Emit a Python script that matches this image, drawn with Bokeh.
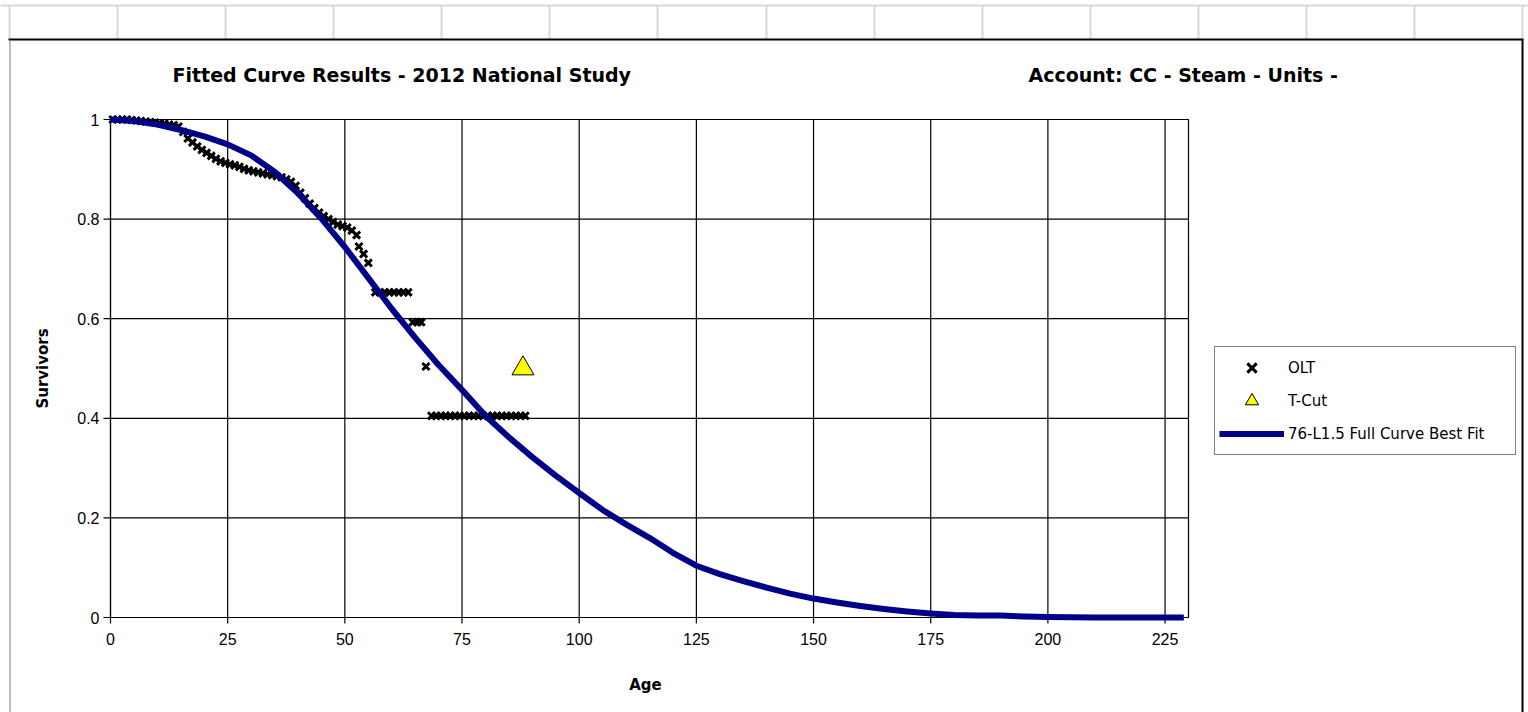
import math

from bokeh.plotting import figure
from bokeh.models import Range1d, Legend, LegendItem
from bokeh.core.properties import value
from bokeh.embed import file_html
from bokeh.resources import INLINE

# ---- data -------------------------------------------------------------
# fitted Iowa curve 76-L1.5 (age in years, fraction surviving)
fit_age = [0, 5, 10, 15, 20, 25, 30, 35, 40, 45, 50, 55, 60, 65, 70, 75, 80,
           85, 90, 95, 100, 105, 110, 115, 120, 125, 130, 135, 140, 145, 150,
           155, 160, 165, 170, 175, 180, 185, 190, 195, 200, 210, 220, 229]
fit_surv = [1.000, 0.997, 0.990, 0.979, 0.966, 0.950, 0.928, 0.895, 0.852,
            0.801, 0.744, 0.682, 0.620, 0.562, 0.507, 0.457, 0.405, 0.362,
            0.322, 0.285, 0.250, 0.216, 0.187, 0.160, 0.130, 0.104, 0.087,
            0.073, 0.060, 0.048, 0.038, 0.030, 0.023, 0.017, 0.012, 0.008,
            0.005, 0.004, 0.004, 0.002, 0.001, 0.000, 0.000, 0.000]

# observed life table
olt_age = [0.5, 1.5, 2.5, 3.5, 4.5, 5.5, 6.5, 7.5, 8.5, 9.5, 10.5, 11.5, 12.5,
           13.5, 14.5, 15.5, 16.5, 17.5, 18.5, 19.5, 20.5, 21.5, 22.5, 23.5,
           24.5, 25.5, 26.5, 27.5, 28.5, 29.5, 30.5, 31.5, 32.5, 33.5, 34.5,
           35.5, 36.5, 37.5, 38.5, 39.5, 40.5, 41.5, 42.5, 43.5, 44.5, 45.5,
           46.5, 47.5, 48.5, 49.5, 50.5, 51.5, 52.5, 53.0, 54.0, 55.0,
           56.5, 57.5, 58.5, 59.5, 60.5, 61.5, 62.5, 63.5,
           64.5, 65.5, 66.3, 67.3,
           68.5, 69.5, 70.5, 71.5, 72.5, 73.5, 74.5, 75.5, 76.5, 77.5, 78.5,
           79.5, 80.5, 81.5, 82.5, 83.5, 84.5, 85.5, 86.5, 87.5, 88.5]
olt_surv = [1.000, 1.000, 1.000, 1.000, 0.999, 0.998, 0.997, 0.996, 0.995,
            0.994, 0.993, 0.992, 0.990, 0.989, 0.986, 0.975, 0.962, 0.954,
            0.946, 0.939, 0.933, 0.927, 0.921, 0.916, 0.913, 0.910, 0.908,
            0.905, 0.901, 0.898, 0.896, 0.894, 0.892, 0.890, 0.888, 0.886,
            0.884, 0.880, 0.875, 0.867, 0.853, 0.842, 0.831, 0.822, 0.813,
            0.806, 0.800, 0.794, 0.789, 0.786, 0.783, 0.777, 0.768, 0.745,
            0.730, 0.712,
            0.653, 0.653, 0.653, 0.653, 0.653, 0.653, 0.653, 0.653,
            0.593, 0.593, 0.593, 0.504,
            0.405, 0.405, 0.405, 0.405, 0.405, 0.405, 0.405, 0.405, 0.405,
            0.405, 0.405, 0.405, 0.405, 0.405, 0.405, 0.405, 0.405, 0.405,
            0.405, 0.405, 0.405]

# truncation point
tcut_age = [88.0]
tcut_surv = [0.50]

x_ticks = [0, 25, 50, 75, 100, 125, 150, 175, 200, 225]
x_tick_labels = ["0", "25", "50", "75", "100", "125", "150", "175", "200",
                 "225"]
y_ticks = [0, 0.2, 0.4, 0.6, 0.8, 1]
y_tick_labels = ["0", "0.2", "0.4", "0.6", "0.8", "1"]

AGE_MAX = 230
SURV_MAX = 1

# ---- page geometry (pixels, origin top-left) ---------------------------
W, H = 1528, 712
FX0, FX1 = 110, 1188      # plot area left / right
FY0, FY1 = 119, 617       # plot area top / bottom

# the figure frame covers the whole page; the page itself is mapped 1:1 in
# pixels, and the chart's own scales ("age", "surv") are laid over it
p = figure(width=W, height=H, output_backend="svg", toolbar_location=None,
           tools="", x_range=Range1d(0, W), y_range=Range1d(H, 0),
           x_axis_location=None, y_axis_location=None,
           min_border=0, background_fill_color="white",
           border_fill_color="white")
p.outline_line_color = None
p.xgrid.visible = False
p.ygrid.visible = False

px_x = AGE_MAX / (FX1 - FX0)
px_y = SURV_MAX / (FY1 - FY0)
p.extra_x_ranges = {"age": Range1d(-FX0 * px_x, AGE_MAX + (W - FX1) * px_x)}
p.extra_y_ranges = {"surv": Range1d(-(H - FY1) * px_y, SURV_MAX + FY0 * px_y)}
xy = dict(x_range_name="age", y_range_name="surv")

# ---- worksheet cells behind the chart ---------------------------------
cell_edges = [9, 117, 225, 333, 441, 549, 657, 766, 874, 982, 1090, 1198,
              1306, 1414, 1522]
cell_grey = "#d8d8d8"
p.segment(x0=[0], y0=[5], x1=[W], y1=[5], line_color=cell_grey, line_width=2)
p.segment(x0=cell_edges, y0=[5] * len(cell_edges), x1=cell_edges,
          y1=[39] * len(cell_edges), line_color=cell_grey, line_width=2)

# chart area edges
p.segment(x0=[8], y0=[39], x1=[1523], y1=[39], line_color="black",
          line_width=2)
p.segment(x0=[9.5], y0=[39], x1=[9.5], y1=[H], line_color="#7a7a7a",
          line_width=1)
p.segment(x0=[1522], y0=[39], x1=[1522], y1=[H], line_color="black",
          line_width=2)

# ---- plot area, grid, ticks -------------------------------------------
p.quad(left=[0], right=[AGE_MAX], bottom=[0], top=[SURV_MAX],
       fill_color="white", line_color="black", line_width=1.2, **xy)
p.segment(x0=x_ticks, y0=[0] * len(x_ticks), x1=x_ticks,
          y1=[SURV_MAX] * len(x_ticks), line_color="black", line_width=1.2,
          **xy)
p.segment(x0=[0] * len(y_ticks), y0=y_ticks, x1=[AGE_MAX] * len(y_ticks),
          y1=y_ticks, line_color="black", line_width=1.2, **xy)
p.ray(x=x_ticks, y=[0] * len(x_ticks), length=6, length_units="screen",
      angle=-math.pi / 2, line_color="black", line_width=1.2, **xy)
p.ray(x=[0] * len(y_ticks), y=y_ticks, length=7, length_units="screen",
      angle=math.pi, line_color="black", line_width=1.2, **xy)

tick_font = value("Liberation Sans")
p.text(x=x_ticks, y=[0] * len(x_ticks), text=x_tick_labels, y_offset=15,
       text_align="center", text_baseline="top", text_font=tick_font,
       text_font_size="16px", text_color="black", **xy)
p.text(x=[0] * len(y_ticks), y=y_ticks, text=y_tick_labels, x_offset=-11,
       text_align="right", text_baseline="middle", text_font=tick_font,
       text_font_size="16px", text_color="black", **xy)

label_font = value("DejaVu Sans")
p.text(x=[645], y=[684], text=["Age"], text_align="center",
       text_baseline="middle", text_font=label_font, text_font_style="bold",
       text_font_size="15px", text_color="black")
p.text(x=[42], y=[368], text=["Survivors"], angle=math.pi / 2,
       text_align="center", text_baseline="middle", text_font=label_font,
       text_font_style="bold", text_font_size="15px", text_color="black")

# ---- series -----------------------------------------------------------
r_olt = p.scatter(olt_age, olt_surv, marker="x", size=10,
                  line_color="black", line_width=3, **xy)
r_tcut = p.scatter(tcut_age, tcut_surv, marker="triangle", size=22,
                   fill_color="#ffff00", line_color="black", line_width=1,
                   **xy)
r_fit = p.line(fit_age, fit_surv, line_color="#000088", line_width=6,
               line_join="round", **xy)

legend = Legend(
    items=[LegendItem(label="OLT", renderers=[r_olt]),
           LegendItem(label="T-Cut", renderers=[r_tcut]),
           LegendItem(label="76-L1.5 Full Curve Best Fit", renderers=[r_fit])],
    location=(1214, H - 455), orientation="vertical",
    glyph_width=65, glyph_height=33, label_height=33, label_width=223,
    label_standoff=4, padding=4, spacing=0, margin=0,
    border_line_color="black", border_line_width=1,
    background_fill_color="white", background_fill_alpha=1,
    label_text_font="DejaVu Sans", label_text_font_size="15px",
    label_text_color="black")
p.add_layout(legend)

# ---- headings ---------------------------------------------------------
p.text(x=[172, 1028], y=[74, 74],
       text=["Fitted Curve Results - 2012 National Study",
             "Account:  CC - Steam - Units -"],
       text_align="left", text_baseline="middle", text_font=label_font,
       text_font_style="bold", text_font_size="19px", text_color="black")

open("out.html", "w").write(file_html(p, INLINE))
